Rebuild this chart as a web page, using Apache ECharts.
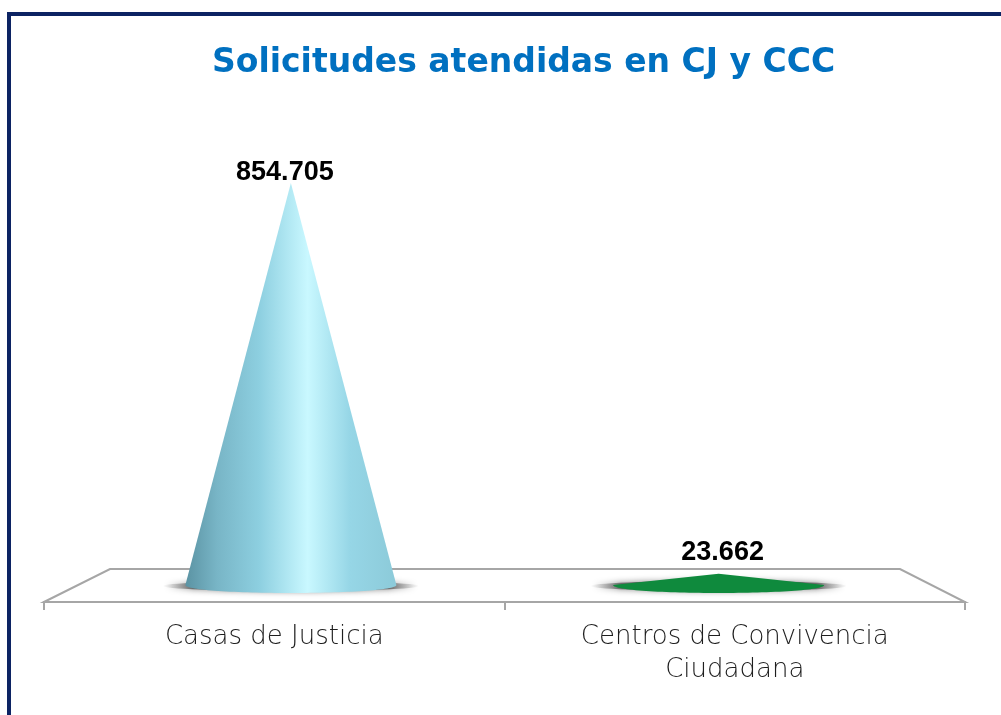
<!doctype html>
<html>
<head>
<meta charset="UTF-8">
<title>Solicitudes atendidas en CJ y CCC</title>
<script src="https://cdn.jsdelivr.net/npm/echarts@6/dist/echarts.min.js"></script>
<style>
  html, body { margin: 0; padding: 0; background: #fff; }
  #main { width: 1001px; height: 715px; }
</style>
</head>
<body>
<div id="main"></div>
<script>
// datos del grafico
var categorias = ['Casas de Justicia', 'Centros de Convivencia\nCiudadana'];
var solicitudes = [854705, 23662];
var titulo = 'Solicitudes atendidas en CJ y CCC';

function formatoMiles(v) {
    return String(v).replace(/\B(?=(\d{3})+(?!\d))/g, '.');
}

var gradCono = {
    type: 'linear', x: 0, y: 0, x2: 1, y2: 0,
    colorStops: [
        { offset: 0, color: '#5b93a3' },
        { offset: 0.15, color: '#78b5c6' },
        { offset: 0.35, color: '#8dcfe0' },
        { offset: 0.58, color: '#c9f8ff' },
        { offset: 0.78, color: '#96d6e6' },
        { offset: 1, color: '#8ccad9' }
    ]
};
var colores = [gradCono, '#0f8a3d'];

// sombra difusa bajo cada cono
var gradSombra = {
    type: 'linear', x: 0, y: 0, x2: 1, y2: 0,
    colorStops: [
        { offset: 0, color: 'rgba(110,110,110,0)' },
        { offset: 0.12, color: 'rgba(80,80,80,0.75)' },
        { offset: 0.5, color: 'rgba(60,60,60,0.9)' },
        { offset: 0.88, color: 'rgba(80,80,80,0.75)' },
        { offset: 1, color: 'rgba(110,110,110,0)' }
    ]
};

var myChart = echarts.init(document.getElementById('main'));

var option = {
    animation: false,
    title: {
        text: titulo,
        left: 207,
        top: 42,
        textStyle: {
            fontFamily: 'DejaVu Sans',
            fontWeight: 'bold',
            fontSize: 33,
            color: '#0070c0'
        }
    },
    graphic: [
        // marco
        { type: 'rect', z: 0, shape: { x: 7, y: 12, width: 994, height: 4 }, style: { fill: '#0c2363' } },
        { type: 'rect', z: 0, shape: { x: 7, y: 12, width: 4, height: 703 }, style: { fill: '#0c2363' } },
        // piso
        {
            type: 'polygon', z: 0,
            shape: { points: [[44, 602], [110, 569], [900, 569], [965, 602]] },
            style: { fill: '#ffffff', stroke: '#a6a6a6', lineWidth: 2 }
        }
    ],
    grid: [
        { left: 44, right: 36, top: 162, bottom: 113 },
        { left: 77, right: 68.5, top: 161.7, bottom: 130 }
    ],
    xAxis: [
        {
            type: 'category',
            gridIndex: 0,
            data: categorias,
            axisLine: { show: true, onZero: false, lineStyle: { color: '#a6a6a6', width: 2 } },
            axisTick: { show: true, length: 8, lineStyle: { color: '#a6a6a6', width: 2 } },
            axisLabel: {
                margin: 19,
                fontFamily: 'DejaVu Sans',
                fontWeight: 200,
                fontSize: 26,
                lineHeight: 33,
                color: '#1e1e1e'
            }
        },
        { type: 'category', gridIndex: 1, data: categorias, show: false }
    ],
    yAxis: [
        { type: 'value', gridIndex: 0, show: false, splitLine: { show: false } },
        { type: 'value', gridIndex: 1, show: false, min: 0, max: 900000, splitLine: { show: false } }
    ],
    series: [
        {
            // sombra de la base
            type: 'pictorialBar',
            xAxisIndex: 1, yAxisIndex: 1,
            z: 2,
            symbol: 'circle',
            symbolPosition: 'start',
            symbolSize: [256, 10],
            symbolOffset: [0, 6],
            silent: true,
            itemStyle: {
                color: gradSombra,
                shadowBlur: 6,
                shadowColor: 'rgba(60,60,60,0.8)'
            },
            data: solicitudes
        },
        {
            // base del cono
            type: 'pictorialBar',
            xAxisIndex: 1, yAxisIndex: 1,
            z: 3,
            symbol: 'path://M0,0 C0,66.7 100,66.7 100,0 Z',
            symbolPosition: 'start',
            symbolSize: [211, 8],
            symbolOffset: [0, 8],
            data: solicitudes.map(function (v, i) {
                return { value: v, itemStyle: { color: colores[i] } };
            })
        },
        {
            // cuerpo del cono
            type: 'pictorialBar',
            xAxisIndex: 1, yAxisIndex: 1,
            z: 4,
            symbol: 'triangle',
            symbolSize: [211, '100%'],
            label: {
                show: true,
                position: 'top',
                fontFamily: 'Liberation Sans',
                fontWeight: 'bold',
                fontSize: 27,
                color: '#000',
                formatter: function (p) { return formatoMiles(p.value); }
            },
            data: solicitudes.map(function (v, i) {
                return {
                    value: v,
                    itemStyle: { color: colores[i] },
                    label: i === 0 ? { distance: -3, offset: [-6, 0] } : { distance: 8, offset: [4, 0] }
                };
            })
        }
    ]
};

myChart.setOption(option);
</script>
</body>
</html>
